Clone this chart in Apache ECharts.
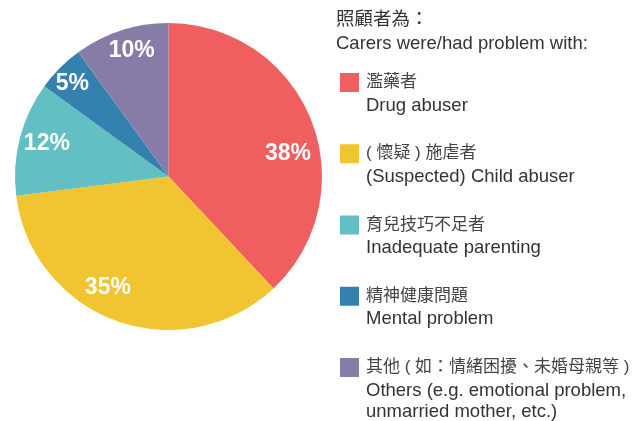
<!DOCTYPE html>
<html>
<head>
    <meta charset="UTF-8">
    <script type="text/javascript" src="https://cdn.jsdelivr.net/npm/echarts@6/dist/echarts.min.js"></script>
    <style type="text/css">
        *{
            margin: 0;
            padding: 0;
        }
        body{
            background: #fff;
        }
        #main{
            width: 639px;
            height: 421px;
        }
    </style>
</head>
<body>
<div id="main"></div>
<script type="text/javascript">
    // 照顧者問題分佈 (%)
    var zhNames = ['濫藥者', '( 懷疑 ) 施虐者', '育兒技巧不足者', '精神健康問題', '其他 ( 如：情緒困擾、未婚母親等 )'];
    var enNames = ['Drug abuser', '(Suspected) Child abuser', 'Inadequate parenting', 'Mental problem',
        'Others (e.g. emotional problem,\nunmarried mother, etc.)'];
    var percents = [38, 35, 12, 5, 10];
    var colors = ['#f05f5f', '#f1c532', '#62bfc3', '#3481b0', '#877ca8'];

    // 標籤微調 (px)，原圖的標籤不完全在扇形中線上
    var labelNudge = [[-3, 26], [-16, -13], [6, 0], [-3, 0], [4, -1]];

    var font = "'Liberation Sans', Arial, 'Noto Sans CJK TC', sans-serif";

    var pieData = [], labelData = [];
    for (var i = 0; i < zhNames.length; i++) {
        pieData.push({name: zhNames[i], value: percents[i]});
        labelData.push({name: zhNames[i], value: percents[i], label: {offset: labelNudge[i]}});
    }

    // 圖例方塊放在 rich text 裡，讓方塊對齊第一行
    var rich = {
        zh: {fontSize: 17, lineHeight: 22, color: '#444', padding: [0, 0, 0, 7], fontFamily: font},
        en: {fontSize: 18.5, lineHeight: 24, color: '#333', padding: [0, 0, 0, 26], fontFamily: font},
        en2: {fontSize: 18.5, lineHeight: 18, color: '#333', padding: [0, 0, 0, 26], fontFamily: font}
    };
    colors.forEach(function (c, i) {
        rich['c' + i] = {backgroundColor: c, width: 19, height: 19};
    });

    var myChart = echarts.init(document.getElementById('main'));
    var option = {
        color: colors,
        animation: false,
        title: {
            text: '照顧者為：\nCarers were/had problem with:',
            left: 336,
            top: 8,
            padding: 0,
            textStyle: {
                fontSize: 18.5,
                fontWeight: 'normal',
                lineHeight: 24,
                color: '#333',
                fontFamily: font
            }
        },
        legend: {
            orient: 'vertical',
            left: 335,
            top: 73,
            height: 420,
            padding: 0,
            itemGap: 29.5,
            itemWidth: 0,
            itemHeight: 0,
            selectedMode: false,
            data: zhNames,
            formatter: function (name) {
                var i = zhNames.indexOf(name);
                var lines = enNames[i].split('\n').map(function (l, k) {
                    return (k === 0 ? '{en|' : '{en2|') + l + '}';
                });
                return '{c' + i + '|}{zh|' + name + '}\n' + lines.join('\n');
            },
            textStyle: {
                rich: rich
            }
        },
        series: [
            {
                name: '照顧者',
                type: 'pie',
                center: [168.5, 176.5],
                radius: [0, 153.5],
                startAngle: 90,
                label: {show: false},
                labelLine: {show: false},
                data: pieData
            },
            {
                // 透明外環只用來放百分比標籤
                name: 'labels',
                type: 'pie',
                silent: true,
                center: [168.5, 176.5],
                radius: [104, 153.5],
                startAngle: 90,
                itemStyle: {color: 'rgba(0,0,0,0)'},
                label: {
                    position: 'inside',
                    formatter: '{c}%',
                    color: '#fff',
                    fontSize: 23,
                    fontWeight: 'bold',
                    fontFamily: font
                },
                labelLine: {show: false},
                data: labelData
            }
        ]
    };
    myChart.setOption(option);
</script>
</body>
</html>
